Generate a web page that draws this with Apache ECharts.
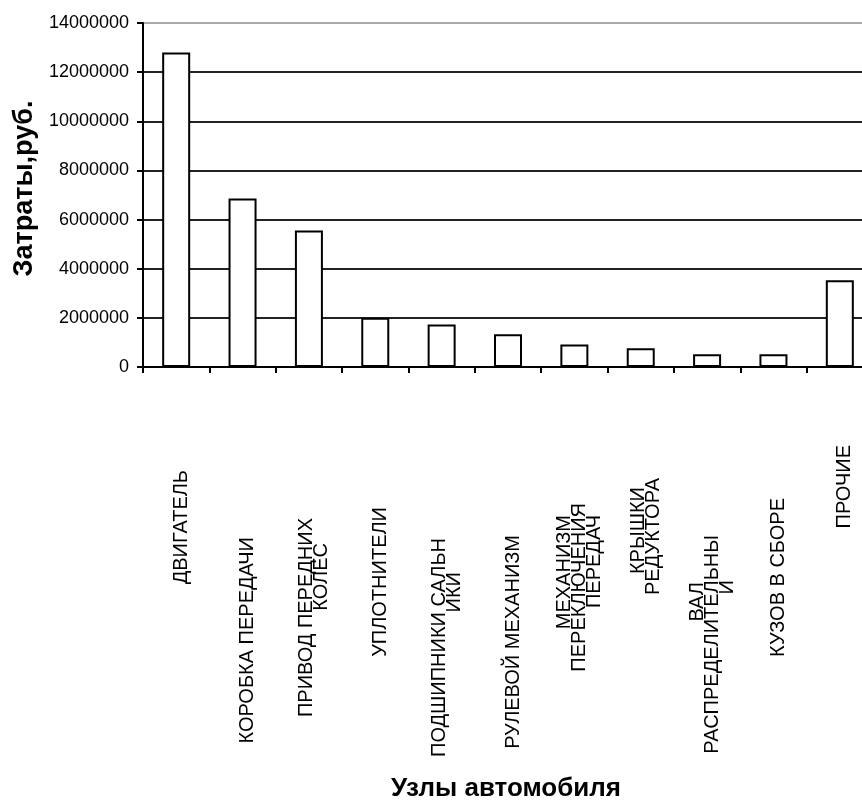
<!DOCTYPE html>
<html lang="ru">

<head>
    <meta charset="UTF-8">
    <title>Затраты по узлам автомобиля</title>
    <script src="https://cdnjs.cloudflare.com/ajax/libs/echarts/6.0.0/echarts.min.js"></script>
    <style>
        html, body { margin: 0; padding: 0; background: #fff; }
        #main { width: 862px; height: 801px; }
    </style>
</head>

<body>
    <div id="main"></div>
</body>
<script>
    // данные с диаграммы
    var categories = ['ДВИГАТЕЛЬ', 'КОРОБКА ПЕРЕДАЧИ', 'ПРИВОД ПЕРЕДНИХ\nКОЛЕС', 'УПЛОТНИТЕЛИ',
        'ПОДШИПНИКИ САЛЬН\nИКИ', 'РУЛЕВОЙ МЕХАНИЗМ', 'МЕХАНИЗМ\nПЕРЕКЛЮЧЕНИЯ\nПЕРЕДАЧ',
        'КРЫШКИ\nРЕДУКТОРА', 'ВАЛ\nРАСПРЕДЕЛИТЕЛЬНЫ\nИ', 'КУЗОВ В СБОРЕ', 'ПРОЧИЕ'];
    var costs = [12800000, 6860000, 5560000, 2000000, 1730000, 1330000, 920000, 760000, 520000, 520000, 3530000];
    var yMin = 0, yMax = 14000000, yStep = 2000000;

    // сдвиг каждой строки подписи вниз от оси, px (раскладка, не данные)
    var labelDrop = [[99], [166], [147, 172], [136], [167, 201], [164], [144, 132, 144], [116, 107], [211, 164, 209], [127], [74]];

    var font = 'Liberation Sans, Arial, sans-serif';

    var rich = {};
    labelDrop.forEach(function (row) {
        row.forEach(function (d) {
            rich['d' + d] = {
                padding: [0, d, 0, 0],
                fontSize: 20,
                lineHeight: 15,
                align: 'right',
                color: '#000',
                fontFamily: font
            };
        });
    });

    var chart = echarts.init(document.getElementById('main'));

    var option = {
        animation: false,
        backgroundColor: '#fff',
        grid: {
            left: 143,
            right: -11,
            top: 23,
            bottom: 434,
            outerBoundsMode: 'none'
        },
        xAxis: {
            type: 'category',
            data: categories,
            name: 'Узлы автомобиля',
            nameLocation: 'middle',
            nameGap: 409,
            nameTextStyle: {
                fontSize: 26,
                fontWeight: 'bold',
                color: '#000',
                fontFamily: font,
                padding: [0, 4, 0, 0]
            },
            axisLine: { lineStyle: { color: '#000', width: 2 } },
            axisTick: { show: true, length: 6, lineStyle: { color: '#000', width: 2 } },
            axisLabel: {
                interval: 0,
                rotate: 90,
                margin: 4,
                padding: [10, 0, 0, 0],
                formatter: function (value, index) {
                    return value.split('\n').map(function (line, i) {
                        return '{d' + labelDrop[index][i] + '|' + line + '}';
                    }).join('\n');
                },
                rich: rich
            }
        },
        yAxis: {
            type: 'value',
            min: yMin,
            max: yMax,
            interval: yStep,
            name: 'Затраты,руб.',
            nameLocation: 'middle',
            nameGap: 95,
            nameTextStyle: {
                fontSize: 27,
                fontWeight: 'bold',
                color: '#000',
                fontFamily: font,
                padding: [0, 0, 0, 13]
            },
            axisLine: { show: true, lineStyle: { color: '#000', width: 2 } },
            axisTick: { show: true, length: 6, lineStyle: { color: '#000', width: 2 } },
            axisLabel: {
                margin: 14,
                fontSize: 18,
                color: '#000',
                fontFamily: font,
                formatter: function (v) { return String(v); }
            },
            splitLine: {
                show: true,
                lineStyle: {
                    color: ['#222', '#222', '#222', '#222', '#222', '#222', '#222', '#aaa'],
                    width: 2
                }
            }
        },
        series: [
            {
                type: 'bar',
                data: costs,
                barWidth: 28,
                itemStyle: {
                    color: '#fff',
                    borderColor: '#000',
                    borderWidth: 2
                }
            }
        ]
    };

    chart.setOption(option);
</script>

</html>
